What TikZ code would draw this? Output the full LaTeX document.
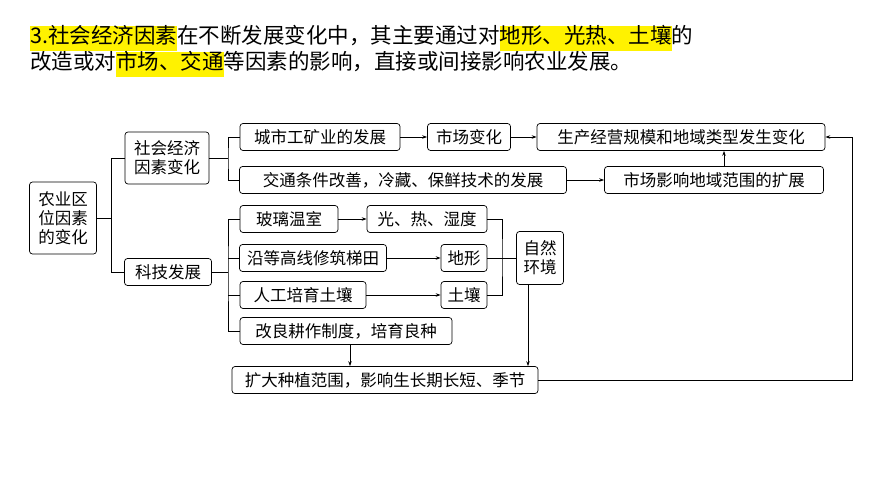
\documentclass[tikz,border=0pt]{standalone}
\usepackage{fontspec}
\setmainfont{Noto Sans CJK SC}
\usetikzlibrary{arrows.meta}
\newcommand{\hl}[1]{{\setlength{\fboxsep}{0pt}\colorbox{yellow}{\strut #1}}}
\begin{document}
\begin{tikzpicture}
		[x=1pt, y=-1pt, line width=0.7pt,
		every node/.style={inner sep=0pt, font=\fontsize{16.5}{19}\selectfont},
		box/.style={draw, rounded corners=3pt, minimum height=27pt},
		tip/.style={-{Stealth[length=5pt,width=3.5pt]}}]
		\useasboundingbox (0,0) rectangle (870,489);
		% title
		\node[anchor=base west, font=\fontsize{21.5}{25}\selectfont] (t1) at (30,44) {\hl{3.社会经济因素}在不断发展变化中，其主要通过对\hl{地形、光热、土壤}的};
		\node[anchor=base west, font=\fontsize{21.5}{25}\selectfont] (t2) at (30,70) {改造或对\hl{市场、交通}等因素的影响，直接或间接影响农业发展。};
		
		\node[box, minimum width=67pt, minimum height=72pt, align=center] (root) at (63,218) {农业区\\位因素\\的变化};
		\node[box, minimum width=84pt, minimum height=52pt, align=center] (soc) at (167,158) {社会经济\\因素变化};
		\node[box, minimum width=87pt] (tech) at (168,272) {科技发展};
		\node[box, minimum width=160pt] (city) at (320,137) {城市工矿业的发展};
		\node[box, minimum width=83pt] (mkt) at (469,137) {市场变化};
		\node[box, minimum width=288pt] (prod) at (681,137) {生产经营规模和地域类型发生变化};
		\node[box, minimum width=327pt] (trans) at (403,180) {交通条件改善，冷藏、保鲜技术的发展};
		\node[box, minimum width=219pt] (range) at (714,180) {市场影响地域范围的扩展};
		\node[box, minimum width=98pt] (glass) at (289,219) {玻璃温室};
		\node[box, minimum width=120pt] (light) at (427,219) {光、热、湿度};
		\node[box, minimum width=147pt] (terr) at (313,258) {沿等高线修筑梯田};
		\node[box, minimum width=46pt] (land) at (464,258) {地形};
		\node[box, minimum width=126pt] (soil) at (303,295) {人工培育土壤};
		\node[box, minimum width=46pt] (dirt) at (464,295) {土壤};
		\node[box, minimum width=212pt] (farm) at (346,331) {改良耕作制度，培育良种};
		\node[box, minimum width=47pt, minimum height=53pt, align=center] (nat) at (540,258) {自然\\环境};
		\node[box, minimum width=306pt] (grow) at (385,380) {扩大种植范围，影响生长期长短、季节};
		
		\draw (root.east) -- ++(14,0) coordinate (j0);
		\draw (soc.west) -| (j0) |- (tech.west);
		\coordinate (j1) at (228,0);
		\draw (soc.east) -- (j1 |- soc.east);
		\draw (city.west) -| (j1 |- soc.east) |- (trans.west);
		\draw (tech.east) -- (j1 |- tech.east);
		\draw (glass.west) -| (j1 |- tech.east) |- (farm.west);
		\draw (j1 |- terr.west) -- (terr.west);
		\draw (j1 |- soil.west) -- (soil.west);
		\coordinate (j2) at (502,0);
		\draw (light.east) -| (j2 |- land.east) |- (dirt.east);
		\draw (land.east) -- (nat.west);
		
		\path[tip] (city) edge (mkt);
		\path[tip] (mkt) edge (prod);
		\path[tip] (trans) edge (range);
		\path[tip] (range.north -| 724,0) edge (prod.south -| 724,0);
		\path[tip] (glass) edge (light);
		\path[tip] (terr) edge (land);
		\path[tip] (soil) edge (dirt);
		\path[tip] (farm.south -| 350,0) edge (grow.north -| 350,0);
		\path[tip] (nat.south -| 528,0) edge (grow.north -| 528,0);
		\draw[tip] (grow.east) -- (852,380) -- (852,137) -- (prod.east);
		\end{tikzpicture}
\end{document}
